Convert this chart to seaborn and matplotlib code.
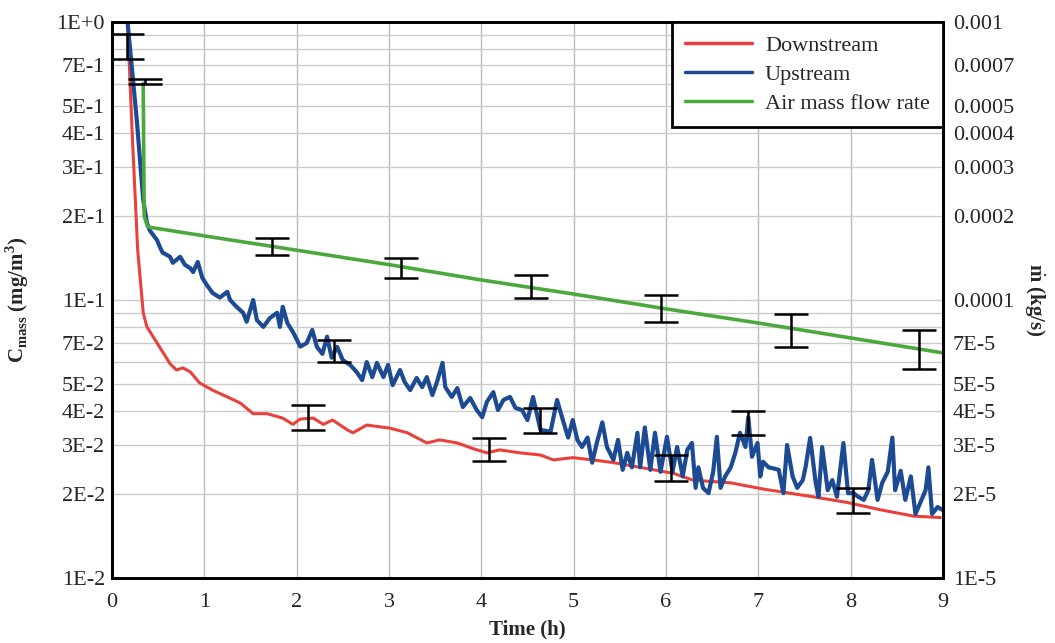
import matplotlib
matplotlib.use("Agg")
import numpy as np
import matplotlib.pyplot as plt
import seaborn as sns

# ---- data ----
time_down = [0.17, 0.22, 0.28, 0.34, 0.38, 0.49, 0.63, 0.70, 0.77, 0.85, 0.95, 1.09,
             1.25, 1.39, 1.53, 1.68, 1.85, 1.96, 2.04, 2.18, 2.29, 2.39, 2.55, 2.61,
             2.76, 3.01, 3.20, 3.41, 3.55, 3.74, 3.91, 4.06, 4.20, 4.42, 4.64, 4.78,
             4.99, 5.21, 5.43, 5.72, 6.08, 6.29, 6.70, 7.05, 7.59, 7.96, 8.32, 8.68, 8.97]
conc_down = [1.00, 0.40, 0.151, 0.0898, 0.080, 0.070, 0.059, 0.056, 0.057, 0.0551, 0.0503, 0.0474,
             0.0448, 0.0426, 0.0390, 0.0390, 0.0376, 0.0357, 0.0373, 0.0376, 0.0357, 0.0370, 0.0341, 0.0333,
             0.0355, 0.0346, 0.0333, 0.0306, 0.0314, 0.0306, 0.0292, 0.0282, 0.0289, 0.0282, 0.0277, 0.0266,
             0.0271, 0.0266, 0.0260, 0.0250, 0.0238, 0.0225, 0.0220, 0.0209, 0.0196, 0.0187, 0.0176, 0.0167, 0.0165]

time_up = [0.17, 0.27, 0.34, 0.38, 0.41, 0.49, 0.52, 0.55, 0.63, 0.66, 0.74, 0.79, 0.85, 0.88,
           0.93, 0.98, 1.03, 1.09, 1.17, 1.25, 1.28, 1.35, 1.42, 1.46, 1.53, 1.57, 1.64, 1.71,
           1.79, 1.82, 1.85, 1.90, 1.96, 2.04, 2.11, 2.17, 2.22, 2.28, 2.33, 2.38, 2.44, 2.50,
           2.58, 2.65, 2.71, 2.76, 2.82, 2.87, 2.94, 2.99, 3.04, 3.12, 3.17, 3.23, 3.30, 3.36,
           3.41, 3.47, 3.52, 3.58, 3.61, 3.68, 3.74, 3.80, 3.88, 3.95, 4.01, 4.06, 4.13, 4.18,
           4.24, 4.31, 4.37, 4.44, 4.50, 4.56, 4.64, 4.75, 4.82, 4.89, 4.94, 4.99, 5.04, 5.09,
           5.15, 5.20, 5.25, 5.31, 5.36, 5.43, 5.48, 5.53, 5.58, 5.63, 5.69, 5.72, 5.77, 5.83,
           5.88, 5.94, 6.01, 6.07, 6.12, 6.18, 6.23, 6.28, 6.32, 6.35, 6.40, 6.46, 6.51, 6.55,
           6.59, 6.64, 6.70, 6.75, 6.80, 6.86, 6.89, 6.93, 6.99, 7.02, 7.05, 7.11, 7.16, 7.22,
           7.27, 7.31, 7.37, 7.42, 7.48, 7.51, 7.56, 7.62, 7.65, 7.69, 7.75, 7.80, 7.85, 7.92,
           7.97, 8.03, 8.08, 8.14, 8.19, 8.23, 8.29, 8.34, 8.40, 8.45, 8.48, 8.54, 8.59, 8.65,
           8.70, 8.75, 8.81, 8.84, 8.88, 8.94, 8.99]
conc_up = [1.00, 0.444, 0.229, 0.189, 0.178, 0.164, 0.155, 0.148, 0.143, 0.136, 0.143, 0.134, 0.130, 0.126,
           0.137, 0.120, 0.113, 0.106, 0.102, 0.107, 0.100, 0.0945, 0.0900, 0.0835, 0.100, 0.0847, 0.0800, 0.0860,
           0.0900, 0.0800, 0.0945, 0.0826, 0.0768, 0.0680, 0.0700, 0.0780, 0.0678, 0.0640, 0.0738, 0.0620, 0.0678, 0.0608,
           0.0584, 0.0551, 0.0515, 0.0598, 0.0528, 0.0594, 0.0528, 0.0584, 0.0494, 0.0560, 0.0507, 0.0474, 0.0524, 0.0486,
           0.0528, 0.0455, 0.0507, 0.0594, 0.0486, 0.0448, 0.0482, 0.0412, 0.0444, 0.0402, 0.0379, 0.0430, 0.0466, 0.0402,
           0.0437, 0.0448, 0.0409, 0.0402, 0.0370, 0.0448, 0.0341, 0.0336, 0.0437, 0.0363, 0.0320, 0.0370, 0.0314, 0.0296,
           0.0320, 0.0260, 0.0306, 0.0363, 0.0296, 0.0266, 0.0314, 0.0245, 0.0282, 0.0250, 0.0333, 0.0250, 0.0348, 0.0245,
           0.0333, 0.0241, 0.0322, 0.0241, 0.0296, 0.0232, 0.0289, 0.0306, 0.0211, 0.0250, 0.0211, 0.0202, 0.0241, 0.0322,
           0.0211, 0.0232, 0.0250, 0.0282, 0.0333, 0.0296, 0.0379, 0.0273, 0.0306, 0.0232, 0.0262, 0.0250, 0.0248, 0.0245,
           0.0202, 0.0301, 0.0232, 0.0211, 0.0225, 0.0250, 0.0319, 0.0220, 0.0196, 0.0296, 0.0207, 0.0225, 0.0196, 0.0306,
           0.0202, 0.0202, 0.0196, 0.0191, 0.0207, 0.0266, 0.0191, 0.0220, 0.0241, 0.0320, 0.0207, 0.0243, 0.0191, 0.0232,
           0.0170, 0.0186, 0.0207, 0.0250, 0.0170, 0.0180, 0.0176]

time_air = [0.34, 0.35, 0.39, 1, 2, 3, 4, 5, 6, 7, 8, 9]
flow_air = [6.0e-4, 2.0e-4, 1.83e-4, 1.70e-4, 1.51e-4, 1.34e-4, 1.18e-4, 1.05e-4, 9.29e-5, 8.26e-5, 7.30e-5, 6.45e-5]

# error bars (low / high) on concentration
err_c_time = [0.16, 2.12, 2.40, 4.08, 4.63, 6.05, 6.89, 8.02]
err_c_lo = [0.736, 0.0341, 0.0600, 0.0263, 0.0333, 0.0223, 0.0327, 0.0172]
err_c_hi = [0.905, 0.0419, 0.0718, 0.0320, 0.0409, 0.0277, 0.0400, 0.0210]

# error bars on air mass flow rate
err_m_time = [0.36, 1.73, 3.13, 4.54, 5.94, 7.35, 8.74]
err_m_lo = [6.0e-4, 1.45e-4, 1.20e-4, 1.02e-4, 8.3e-5, 6.8e-5, 5.65e-5]
err_m_hi = [6.25e-4, 1.67e-4, 1.42e-4, 1.23e-4, 1.04e-4, 8.9e-5, 7.8e-5]

left_ticks = [1, 0.7, 0.5, 0.4, 0.3, 0.2, 0.1, 0.07, 0.05, 0.04, 0.03, 0.02, 0.01]
left_labels = ['1E+0', '7E-1', '5E-1', '4E-1', '3E-1', '2E-1', '1E-1',
               '7E-2', '5E-2', '4E-2', '3E-2', '2E-2', '1E-2']
right_ticks = [1e-3, 7e-4, 5e-4, 4e-4, 3e-4, 2e-4, 1e-4, 7e-5, 5e-5, 4e-5, 3e-5, 2e-5, 1e-5]
right_labels = ['0.001', '0.0007', '0.0005', '0.0004', '0.0003', '0.0002', '0.0001',
                '7E-5', '5E-5', '4E-5', '3E-5', '2E-5', '1E-5']
minor_ticks = [0.9, 0.8, 0.6, 0.09, 0.08, 0.06]

# ---- style ----
sns.set_theme(style='white')
plt.rcParams['font.family'] = ['Liberation Serif', 'DejaVu Serif']
plt.rcParams['mathtext.fontset'] = 'custom'
plt.rcParams['mathtext.rm'] = 'Liberation Serif'
plt.rcParams['mathtext.bf'] = 'Liberation Serif:bold'

red = '#e8413c'
blue = '#1c4b94'
green = '#4ba83c'
fs = 16

fig = plt.figure(figsize=(10.55, 6.43), dpi=100)
ax = fig.add_axes([0.106, 0.101, 0.788, 0.865])
ax.set_yscale('log')

sns.lineplot(x=time_down, y=conc_down, ax=ax, color=red, linewidth=2.2,
             estimator=None, sort=False, label='Downstream')
sns.lineplot(x=time_up, y=conc_up, ax=ax, color=blue, linewidth=3.0,
             estimator=None, sort=False, label='Upstream')

mid_c = np.sqrt(np.array(err_c_lo) * np.array(err_c_hi))
ax.errorbar(err_c_time, mid_c, yerr=[mid_c - np.array(err_c_lo), np.array(err_c_hi) - mid_c],
            fmt='none', ecolor='black', elinewidth=1.8, capsize=12, capthick=1.8, zorder=5)

ax.set_xlim(0, 9)
ax.set_ylim(0.01, 1)
ax.set_xticks(range(10))
ax.set_yticks(left_ticks)
ax.set_yticklabels(left_labels)
ax.set_yticks(minor_ticks, minor=True)
ax.yaxis.set_minor_formatter(plt.NullFormatter())
ax.grid(True, which='both', axis='y', color='#cccccc', linewidth=1)
ax.grid(True, which='major', axis='x', color='#bbbbbb', linewidth=1)
ax.tick_params(axis='both', which='both', length=0, labelsize=fs)
ax.tick_params(axis='x', pad=11)
ax.tick_params(axis='y', pad=5)
ax.set_xlabel('Time (h)', fontsize=15, fontweight='bold', labelpad=5)
ax.set_ylabel(r'$\mathbf{C}_{\mathbf{mass}}$ (mg/m$^{\mathbf{3}}$)', fontsize=15,
              fontweight='bold', labelpad=18)

ax2 = ax.twinx()
ax2.set_yscale('log')
sns.lineplot(x=time_air, y=flow_air, ax=ax2, color=green, linewidth=2.6,
             estimator=None, sort=False, label='Air mass flow rate')
mid_m = np.sqrt(np.array(err_m_lo) * np.array(err_m_hi))
ax2.errorbar(err_m_time, mid_m, yerr=[mid_m - np.array(err_m_lo), np.array(err_m_hi) - mid_m],
             fmt='none', ecolor='black', elinewidth=1.8, capsize=12, capthick=1.8, zorder=5)
ax2.set_ylim(1e-5, 1e-3)
ax2.set_yticks(right_ticks)
ax2.set_yticklabels(right_labels)
ax2.yaxis.set_minor_locator(plt.NullLocator())
ax2.tick_params(axis='y', which='both', length=0, labelsize=fs, pad=7)
ax2.set_ylabel(r'$\dot{\mathbf{m}}$ (kg/s)', fontsize=15, fontweight='bold',
               rotation=270, labelpad=24)
ax2.grid(False)

for a in (ax, ax2):
    for s in a.spines.values():
        s.set_color('black')
        s.set_linewidth(2)

h1, l1 = ax.get_legend_handles_labels()
h2, l2 = ax2.get_legend_handles_labels()
ax.get_legend().remove()
leg = ax2.legend(h1 + h2, l1 + l2, loc='upper right', bbox_to_anchor=(1, 1),
                 borderaxespad=0, frameon=True, fancybox=False, framealpha=1,
                 edgecolor='black', fontsize=fs, handlelength=3.0,
                 labelspacing=0.38, borderpad=0.6, handletextpad=0.6)
leg.get_frame().set_linewidth(2)
for line in leg.get_lines():
    line.set_linewidth(2.5)

fig.savefig('out.png', dpi=100)
